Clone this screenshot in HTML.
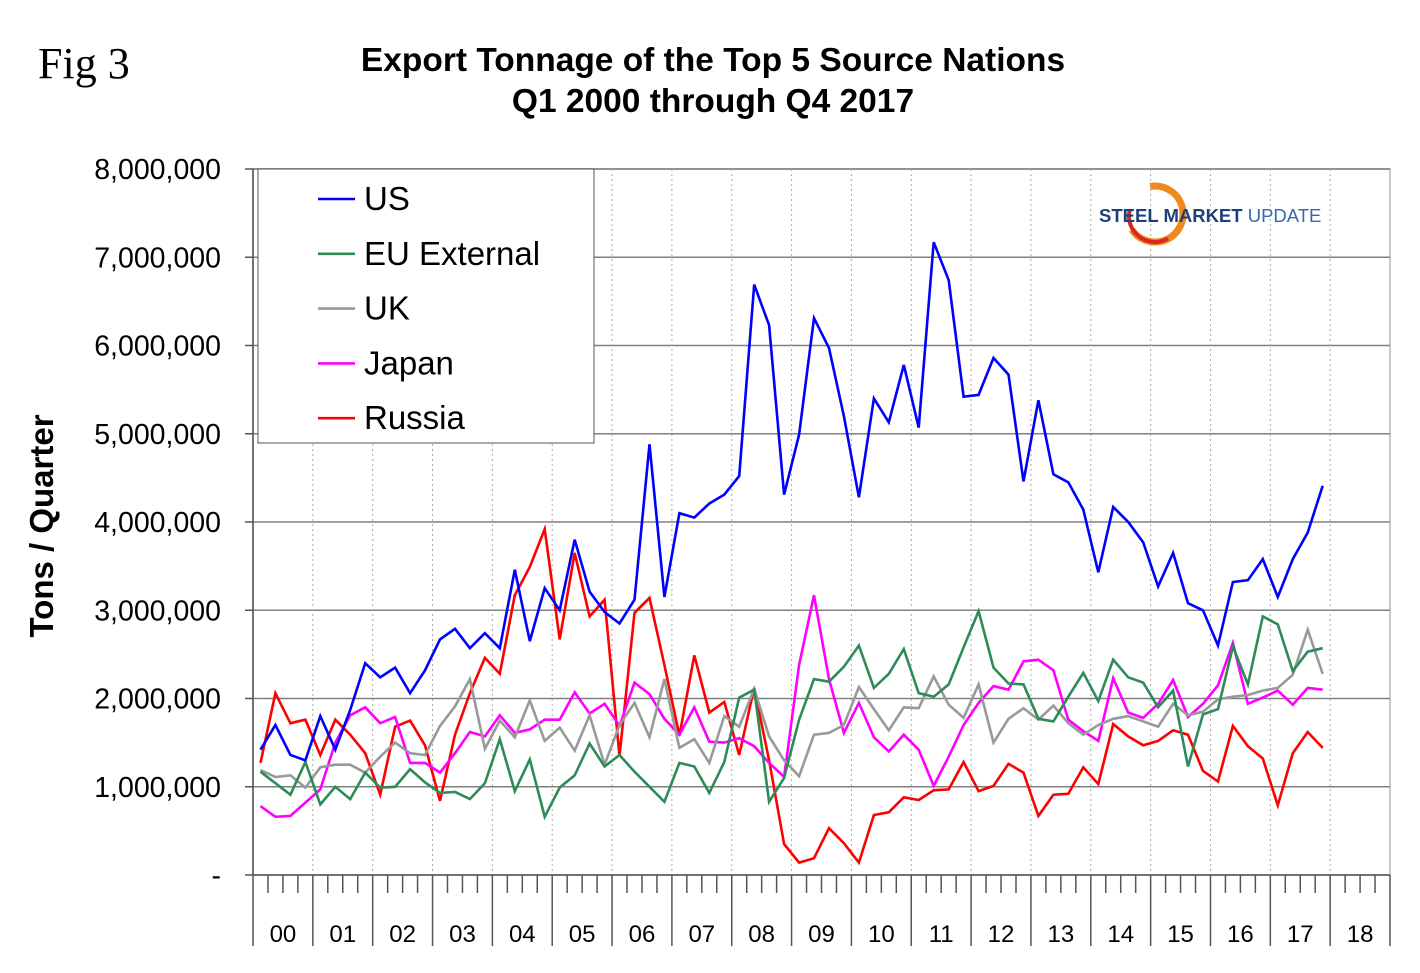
<!DOCTYPE html>
<html><head><meta charset="utf-8">
<style>
html,body{margin:0;padding:0;background:#fff;}
svg{display:block;font-family:"Liberation Sans",Arial,sans-serif;}
</style></head>
<body>
<svg id="chart" width="1420" height="973" viewBox="0 0 1420 973" xmlns="http://www.w3.org/2000/svg">
<text x="38" y="78" font-family="Liberation Serif, serif" font-size="44">Fig 3</text>
<text x="713" y="71" text-anchor="middle" font-size="33.5" font-weight="bold">Export Tonnage of the Top 5 Source Nations</text>
<text x="713" y="112" text-anchor="middle" font-size="33.5" font-weight="bold">Q1 2000 through Q4 2017</text>
<text transform="translate(53,526) rotate(-90)" text-anchor="middle" font-size="33" font-weight="bold">Tons / Quarter</text>
<g id="grid"></g>
<g id="series"></g>
<g id="axes"></g>
<g id="legend">
<rect x="258" y="169" width="336" height="274" fill="#fff" stroke="#555" stroke-width="1"/>
</g>
<g>
<circle cx="1155" cy="214" r="28" fill="none" stroke="#f08a1c" stroke-width="7" stroke-dasharray="120 60" transform="rotate(-100 1155 214)"/>
<circle cx="1155" cy="216" r="26" fill="none" stroke="#d8281e" stroke-width="4" stroke-dasharray="60 120" transform="rotate(60 1155 216)"/>
<text x="1099" y="222" font-size="18.5" font-weight="bold" fill="#1f3f7a">STEEL <tspan fill="#1f3f7a">MARKET</tspan> <tspan font-weight="normal" fill="#3a66b0">UPDATE</tspan></text>
</g>
</svg>
<script>
const yearLabels=["00","01","02","03","04","05","06","07","08","09","10","11","12","13","14","15","16","17","18"];
const yTicks=[0,1,2,3,4,5,6,7,8];
const yTickLabels=["-","1,000,000","2,000,000","3,000,000","4,000,000","5,000,000","6,000,000","7,000,000","8,000,000"];
const seriesNames=["US","EU External","UK","Japan","Russia"];
const seriesColors=["#0000ff","#2e8b57","#999999","#ff00ff","#ff0000"];
const us=[1.42,1.70,1.36,1.30,1.80,1.42,1.87,2.40,2.24,2.35,2.06,2.32,2.67,2.79,2.57,2.74,2.57,3.46,2.65,3.25,3.00,3.80,3.21,2.98,2.85,3.12,4.88,3.15,4.10,4.05,4.21,4.31,4.52,6.69,6.23,4.31,4.99,6.31,5.97,5.20,4.28,5.40,5.13,5.78,5.07,7.17,6.74,5.42,5.44,5.86,5.67,4.46,5.38,4.54,4.45,4.14,3.43,4.17,4.00,3.77,3.27,3.65,3.08,3.00,2.60,3.32,3.34,3.58,3.15,3.58,3.88,4.41];
const eu=[1.17,1.04,0.91,1.28,0.80,1.00,0.86,1.16,0.99,1.00,1.20,1.05,0.93,0.94,0.86,1.04,1.54,0.95,1.31,0.66,0.99,1.13,1.49,1.23,1.36,1.17,1.00,0.83,1.27,1.23,0.93,1.28,2.01,2.10,0.83,1.10,1.76,2.22,2.19,2.36,2.60,2.12,2.28,2.56,2.06,2.02,2.16,2.58,2.99,2.35,2.17,2.16,1.77,1.74,2.02,2.29,1.97,2.44,2.24,2.18,1.90,2.09,1.23,1.82,1.88,2.59,2.16,2.93,2.84,2.31,2.53,2.57];
const uk=[1.19,1.11,1.13,0.99,1.22,1.25,1.25,1.16,1.34,1.50,1.38,1.36,1.69,1.91,2.22,1.43,1.75,1.56,1.98,1.52,1.67,1.41,1.81,1.25,1.70,1.95,1.56,2.22,1.44,1.54,1.27,1.80,1.68,2.11,1.57,1.30,1.12,1.59,1.61,1.70,2.13,1.88,1.64,1.90,1.89,2.25,1.93,1.78,2.16,1.50,1.77,1.89,1.76,1.92,1.72,1.59,1.70,1.77,1.80,1.74,1.68,1.94,1.81,1.85,1.99,2.02,2.04,2.09,2.12,2.27,2.78,2.28];
const japan=[0.78,0.66,0.67,0.82,0.97,1.50,1.81,1.90,1.72,1.79,1.27,1.27,1.16,1.38,1.62,1.57,1.81,1.61,1.65,1.76,1.76,2.07,1.83,1.94,1.69,2.18,2.05,1.77,1.59,1.90,1.51,1.50,1.55,1.46,1.27,1.11,2.38,3.17,2.22,1.61,1.95,1.56,1.40,1.59,1.42,1.01,1.34,1.70,1.95,2.14,2.10,2.42,2.44,2.32,1.76,1.63,1.52,2.23,1.84,1.78,1.94,2.21,1.79,1.94,2.15,2.63,1.94,2.01,2.09,1.93,2.12,2.10];
const russia=[1.27,2.06,1.72,1.76,1.36,1.76,1.59,1.38,0.91,1.68,1.75,1.47,0.84,1.59,2.06,2.46,2.28,3.17,3.49,3.92,2.67,3.65,2.93,3.12,1.35,2.97,3.14,2.38,1.58,2.49,1.84,1.96,1.36,2.12,1.30,0.35,0.14,0.19,0.53,0.36,0.14,0.68,0.71,0.88,0.85,0.96,0.97,1.28,0.95,1.01,1.26,1.16,0.67,0.91,0.92,1.22,1.03,1.71,1.57,1.47,1.52,1.64,1.59,1.18,1.06,1.69,1.46,1.32,0.79,1.38,1.62,1.44];
const allSeries=[us,eu,uk,japan,russia];

const NS="http://www.w3.org/2000/svg";
const X0=253,X1=1390,Y0=875,YTOP=169;
const yearW=(X1-X0)/yearLabels.length, qW=yearW/4;
function xq(i){return X0+qW*(i+0.5);}
function yv(v){return Y0-(v/8)*(Y0-YTOP);}
function mk(tag,attrs,parent){const e=document.createElementNS(NS,tag);for(const k in attrs)e.setAttribute(k,attrs[k]);parent.appendChild(e);return e;}
const grid=document.getElementById('grid'),axes=document.getElementById('axes'),ser=document.getElementById('series'),leg=document.getElementById('legend');

mk('rect',{x:X0,y:YTOP,width:X1-X0,height:Y0-YTOP,fill:'none',stroke:'#c8c8c8','stroke-width':2},grid);
yTicks.forEach((t,k)=>{
  if(t>0){const l=mk('line',{x1:X0,x2:X1,y1:yv(t),y2:yv(t),stroke:'#808080','stroke-width':1.5},grid);
  
  }
  mk('line',{x1:X0-8,x2:X0,y1:yv(t),y2:yv(t),stroke:'#555','stroke-width':1.5},axes);
  const tx=mk('text',{x:221,y:yv(t)+10,'text-anchor':'end','font-size':28.5},axes);
  tx.textContent=yTickLabels[k];
  
  
});
yearLabels.forEach((lab,k)=>{
  const xb=X0+k*yearW;
  if(k>0){const d=mk('line',{x1:xb,x2:xb,y1:YTOP,y2:Y0,stroke:'#aaa','stroke-width':1,'stroke-dasharray':'2 3'},grid);
  
  }
  mk('line',{x1:xb,x2:xb,y1:Y0,y2:946,stroke:'#555','stroke-width':1.5},axes);
  for(let q=1;q<4;q++){mk('line',{x1:xb+q*qW,x2:xb+q*qW,y1:Y0,y2:893,stroke:'#555','stroke-width':1.5},axes);}
  const tx=mk('text',{x:xb+yearW/2,y:942,'text-anchor':'middle','font-size':24},axes);
  tx.textContent=lab;
  
  
});
mk('line',{x1:X1,x2:X1,y1:Y0,y2:946,stroke:'#555','stroke-width':1.5},axes);
mk('line',{x1:X0,x2:X1,y1:Y0,y2:Y0,stroke:'#555','stroke-width':1.5},axes);
mk('line',{x1:X0,x2:X0,y1:YTOP,y2:Y0,stroke:'#555','stroke-width':1.5},axes);

const order=[4,3,2,1,0];
order.forEach(s=>{
  const pts=allSeries[s].map((v,i)=>xq(i).toFixed(1)+','+yv(v).toFixed(1)).join(' ');
  const p=mk('polyline',{points:pts,fill:'none',stroke:seriesColors[s],'stroke-width':2.6,'stroke-linejoin':'miter'},ser);
  
  
});
seriesNames.forEach((n,s)=>{
  const y=199+s*54.8;
  const g=mk('g',{},leg);
  
  
  mk('line',{x1:318,x2:355,y1:y,y2:y,stroke:seriesColors[s],'stroke-width':2.6},g);
  const t=mk('text',{x:364,y:y+11,'font-size':33},g);
  t.textContent=n;
});
</script>
</body></html>
